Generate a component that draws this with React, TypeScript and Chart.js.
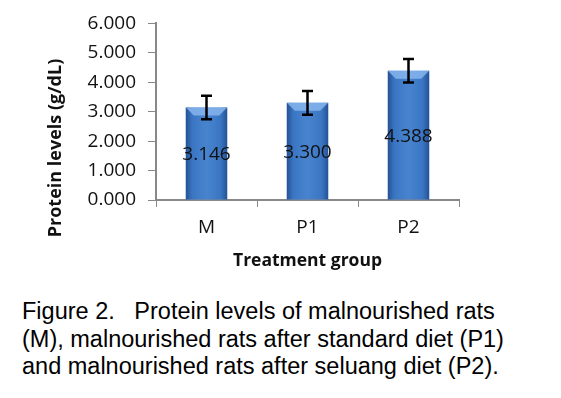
import React, { useEffect, useRef } from "react";
import { Chart, registerables } from "chart.js";

Chart.register(...registerables);

const categories = ["M", "P1", "P2"];
const proteinValues = [3.146, 3.3, 4.388];
const errorValues = [0.4, 0.4, 0.4];
const yTicks = [0, 1, 2, 3, 4, 5, 6];
const yTitle = "Protein levels (g/dL)";
const xTitle = "Treatment group";
const captionLines = [
  "Figure 2.\u00a0\u00a0\u00a0Protein levels of malnourished rats",
  "(M), malnourished rats after standard diet (P1)",
  "and malnourished rats after seluang diet (P2).",
];

const FONT = "'Open Sans', 'DejaVu Sans', sans-serif";

const barStylePlugin = {
  id: "barStyle",
  afterDatasetsDraw(chart: any) {
    const ctx = chart.ctx;
    const meta = chart.getDatasetMeta(0);
    meta.data.forEach((bar: any) => {
      const { x, y, base, width } = bar.getProps(["x", "y", "base", "width"], true);
      const left = x - width / 2;
      const right = x + width / 2;
      ctx.save();
      const g = ctx.createLinearGradient(left, 0, right, 0);
      g.addColorStop(0, "rgba(15,40,90,0.5)");
      g.addColorStop(0.15, "rgba(15,40,90,0.08)");
      g.addColorStop(0.5, "rgba(255,255,255,0.06)");
      g.addColorStop(0.85, "rgba(15,40,90,0.08)");
      g.addColorStop(1, "rgba(15,40,90,0.5)");
      ctx.fillStyle = g;
      ctx.fillRect(left, y, width, base - y);
      const bev = 8;
      ctx.beginPath();
      ctx.moveTo(left, y);
      ctx.lineTo(right, y);
      ctx.lineTo(right - bev, y + bev);
      ctx.lineTo(left + bev, y + bev);
      ctx.closePath();
      ctx.fillStyle = "rgba(140,185,240,0.8)";
      ctx.fill();
      ctx.restore();
    });
  },
};

const errorBarPlugin = {
  id: "errorBars",
  afterDatasetsDraw(chart: any) {
    const ctx = chart.ctx;
    const yScale = chart.scales.y;
    const meta = chart.getDatasetMeta(0);
    meta.data.forEach((bar: any, i: number) => {
      const v = proteinValues[i];
      const e = errorValues[i];
      const yTop = yScale.getPixelForValue(v + e);
      const yBot = yScale.getPixelForValue(v - e);
      const x = bar.x;
      ctx.save();
      ctx.strokeStyle = "#000";
      ctx.lineWidth = 2.5;
      ctx.beginPath();
      ctx.moveTo(x, yTop);
      ctx.lineTo(x, yBot);
      ctx.moveTo(x - 5.5, yTop);
      ctx.lineTo(x + 5.5, yTop);
      ctx.moveTo(x - 5.5, yBot);
      ctx.lineTo(x + 5.5, yBot);
      ctx.stroke();
      ctx.restore();
    });
  },
};

const dataLabelPlugin = {
  id: "dataLabels",
  afterDatasetsDraw(chart: any) {
    const ctx = chart.ctx;
    const meta = chart.getDatasetMeta(0);
    meta.data.forEach((bar: any, i: number) => {
      const v = proteinValues[i];
      ctx.save();
      ctx.font = `19px ${FONT}`;
      ctx.fillStyle = "#111";
      ctx.textAlign = "center";
      ctx.textBaseline = "middle";
      ctx.fillText(v.toFixed(3), bar.x, (bar.y + bar.base) / 2 + 1);
      ctx.restore();
    });
  },
};

const yTitlePlugin = {
  id: "yTitleCustom",
  afterDraw(chart: any) {
    const ctx = chart.ctx;
    ctx.save();
    ctx.translate(56, 148);
    ctx.rotate(-Math.PI / 2);
    ctx.font = `bold 18px ${FONT}`;
    ctx.fillStyle = "#111";
    ctx.textAlign = "center";
    ctx.textBaseline = "middle";
    ctx.fillText(yTitle, 0, 0);
    ctx.restore();
  },
};

export default function App() {
  const canvasRef = useRef<HTMLCanvasElement>(null);

  useEffect(() => {
    document.body.style.margin = "0";
    const chart = new Chart(canvasRef.current!, {
      type: "bar",
      data: {
        labels: categories,
        datasets: [
          {
            data: proteinValues,
            backgroundColor: "#3C7BCB",
            borderWidth: 0,
            barPercentage: 0.41,
            categoryPercentage: 1,
          },
        ],
      },
      options: {
        animation: false,
        responsive: false,
        devicePixelRatio: 1,
        layout: { padding: { left: 0, right: 102, top: 20, bottom: 0 } },
        plugins: {
          legend: { display: false },
          tooltip: { enabled: false },
        },
        scales: {
          x: {
            grid: {
              drawOnChartArea: false,
              tickLength: 7,
              color: "#888",
              offset: true,
            },
            border: { color: "#888", width: 2 },
            ticks: {
              font: { family: FONT, size: 19 },
              color: "#111",
              padding: 9,
            },
            title: {
              display: true,
              text: xTitle,
              font: { family: FONT, size: 17.5, weight: "bold" },
              color: "#111",
              padding: { top: 0, bottom: 8 },
            },
            afterFit(scale: any) {
              scale.height = 80;
            },
          },
          y: {
            min: 0,
            max: 6,
            afterBuildTicks(scale: any) {
              scale.ticks = yTicks.map((v) => ({ value: v }));
            },
            grid: {
              drawOnChartArea: false,
              tickLength: 8,
              color: "#888",
            },
            border: { color: "#888", width: 2 },
            ticks: {
              font: { family: FONT, size: 19 },
              color: "#111",
              padding: 12,
              callback: (v: any) => Number(v).toFixed(3),
            },
            title: { display: false },
            afterFit(scale: any) {
              scale.width = 156;
            },
          },
        },
      },
      plugins: [barStylePlugin, errorBarPlugin, dataLabelPlugin, yTitlePlugin],
    } as any);
    return () => chart.destroy();
  }, []);

  return (
    <div style={{ position: "relative", width: 561, height: 398, background: "#fff" }}>
      <canvas
        ref={canvasRef}
        width={561}
        height={280}
        style={{ position: "absolute", left: 0, top: 0, width: 561, height: 280 }}
      />
      <div
        style={{
          position: "absolute",
          left: 22,
          top: 298,
          fontFamily: "'Liberation Sans', Arial, sans-serif",
          fontSize: 23.5,
          lineHeight: "27.5px",
          color: "#000",
          whiteSpace: "nowrap",
        }}
      >
        {captionLines.map((l, i) => (
          <div key={i}>{l}</div>
        ))}
      </div>
    </div>
  );
}
